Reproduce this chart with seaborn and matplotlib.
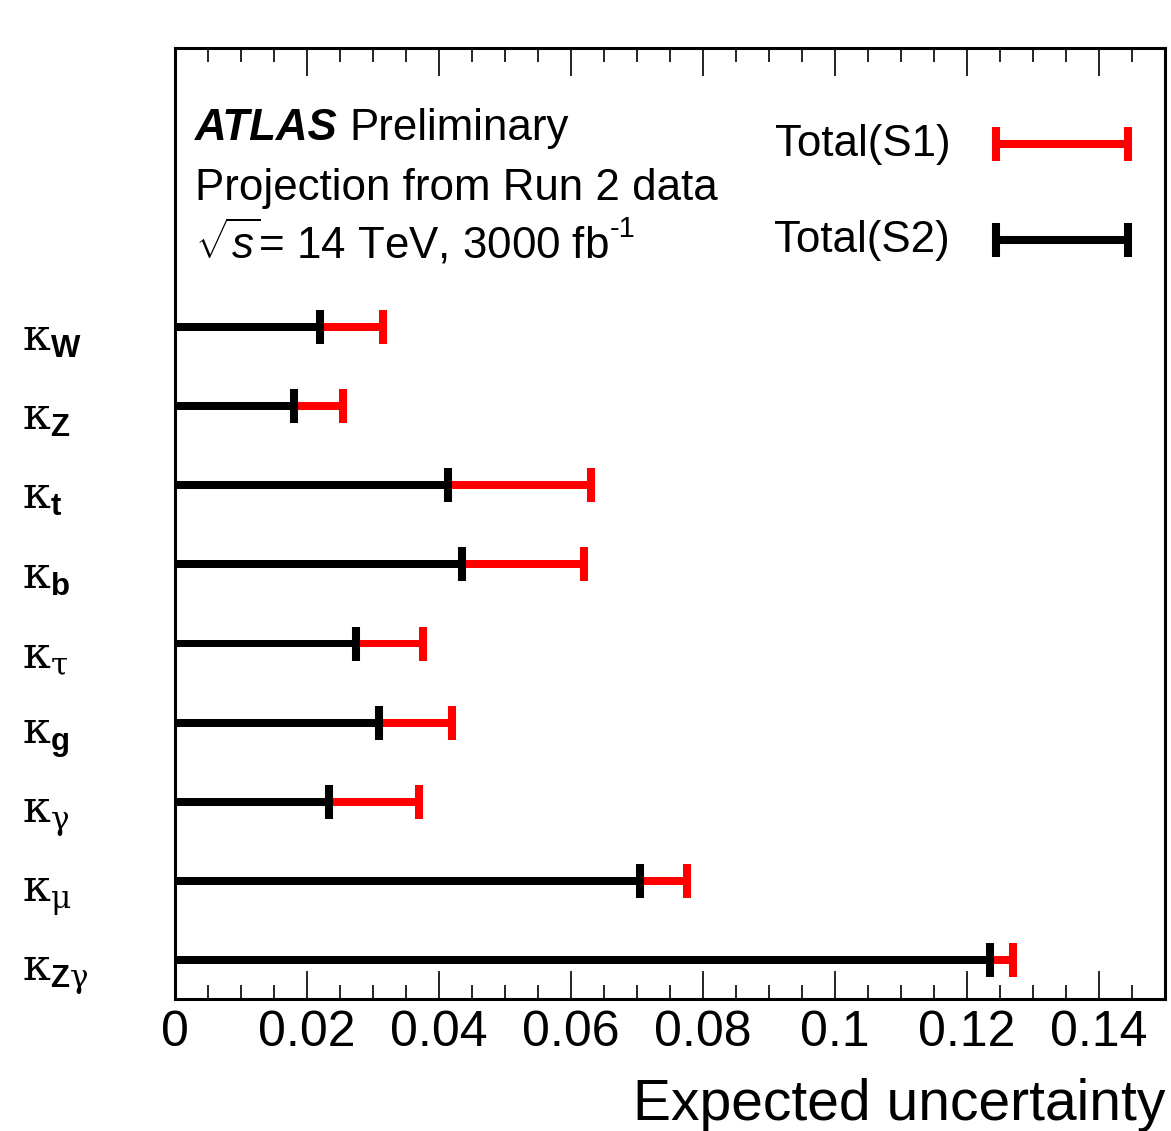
import numpy as np
import pandas as pd
import matplotlib
matplotlib.use("Agg")
import matplotlib.pyplot as plt
import matplotlib.transforms as mtrans
import seaborn as sns
from matplotlib.ticker import MultipleLocator

# ---- data ----
labels = [r"$\mathrm{\kappa}_{\mathbf{W}}$", r"$\mathrm{\kappa}_{\mathbf{Z}}$",
          r"$\mathrm{\kappa}_{\mathbf{t}}$", r"$\mathrm{\kappa}_{\mathbf{b}}$",
          r"$\mathrm{\kappa}_{\mathrm{\tau}}$", r"$\mathrm{\kappa}_{\mathbf{g}}$",
          r"$\mathrm{\kappa}_{\mathrm{\gamma}}$", r"$\mathrm{\kappa}_{\mathrm{\mu}}$",
          r"$\mathrm{\kappa}_{\mathbf{Z}\mathrm{\gamma}}$"]
total_s1 = [0.0315, 0.0255, 0.063, 0.062, 0.0376, 0.042, 0.037, 0.0776, 0.127]
total_s2 = [0.022, 0.018, 0.0414, 0.0435, 0.0274, 0.0309, 0.0233, 0.0705, 0.1235]
xticks = [0, 0.02, 0.04, 0.06, 0.08, 0.1, 0.12, 0.14]
xtick_labels = ["0", "0.02", "0.04", "0.06", "0.08", "0.1", "0.12", "0.14"]

df = pd.DataFrame({"coupling": labels, "S1": total_s1, "S2": total_s2})
df["pos"] = np.arange(len(df))

sns.set_style("white")
plt.rcParams["font.family"] = ["Liberation Sans", "DejaVu Sans"]
plt.rcParams["text.color"] = "black"
plt.rcParams["axes.labelcolor"] = "black"
plt.rcParams["xtick.color"] = "black"
plt.rcParams["ytick.color"] = "black"
plt.rcParams["mathtext.fontset"] = "custom"
plt.rcParams["mathtext.rm"] = "DejaVu Serif"
plt.rcParams["mathtext.it"] = "Liberation Sans:italic"
plt.rcParams["mathtext.bf"] = "Liberation Sans:bold"
plt.rcParams["mathtext.sf"] = "Liberation Sans"

fig = plt.figure(figsize=(11.71, 11.31), dpi=100)
ax = fig.add_axes([175 / 1171, 1 - 999 / 1131, 990 / 1171, 951 / 1131])

bar_w = 0.1
cap_s = 23.8 ** 2
cap_lw = 5.8

sns.barplot(data=df, x="S1", y="coupling", orient="h", color="red",
            width=bar_w, errorbar=None, linewidth=0, saturation=1, ax=ax)
sns.barplot(data=df, x="S2", y="coupling", orient="h", color="black",
            width=bar_w, errorbar=None, linewidth=0, saturation=1, ax=ax)
sns.scatterplot(data=df, x="S1", y="pos", marker="|", s=cap_s, linewidth=cap_lw,
                color="red", ax=ax, zorder=3, legend=False)
sns.scatterplot(data=df, x="S2", y="pos", marker="|", s=cap_s, linewidth=cap_lw,
                color="black", ax=ax, zorder=4, legend=False)

ax.set_xlim(0, 0.15)
ax.set_ylim(len(df) - 1 + 0.493, -3.527)

ax.set_xticks(xticks)
ax.set_xticklabels(xtick_labels)
ax.xaxis.set_minor_locator(MultipleLocator(0.005))
ax.tick_params(axis="x", which="major", direction="in", length=20, width=1.2,
               top=True, bottom=True, labelsize=36, pad=8, colors="black")
ax.tick_params(axis="x", which="minor", direction="in", length=10, width=1.2,
               top=True, bottom=True)
ax.tick_params(axis="y", length=0, labelsize=32, pad=110)
shift = mtrans.ScaledTranslation(0, -0.08, fig.dpi_scale_trans)
for lab in ax.get_yticklabels():
    lab.set_horizontalalignment("left")
    lab.set_transform(lab.get_transform() + shift)

for sp in ax.spines.values():
    sp.set_linewidth(2.2)
    sp.set_color("black")

ax.set_ylabel("")
ax.set_xlabel("Expected uncertainty", fontsize=41, ha="right")
ax.xaxis.set_label_coords(1.0, -0.083)

# ---- header text ----
fs = 31.6
t1 = ax.text(0.0202, 0.903, "ATLAS", transform=ax.transAxes, fontsize=fs,
             fontweight="bold", fontstyle="italic", va="baseline", ha="left")
fig.canvas.draw()
bb = t1.get_window_extent()
x_next = ax.transAxes.inverted().transform((bb.x1 + 12, 0))[0]
ax.text(x_next, 0.903, "Preliminary", transform=ax.transAxes, fontsize=fs,
        va="baseline", ha="left")
ax.text(0.0202, 0.840, "Projection from Run 2 data", transform=ax.transAxes,
        fontsize=fs, va="baseline", ha="left")
t3 = ax.text(0.0202, 0.779, r"$\sqrt{s}$= 14 TeV, 3000 fb",
             transform=ax.transAxes, fontsize=fs, va="baseline", ha="left")
fig.canvas.draw()
bb3 = t3.get_window_extent()
x_sup = ax.transAxes.inverted().transform((bb3.x1 + 1, 0))[0]
ax.text(x_sup, 0.779 + 0.022, "-1", transform=ax.transAxes, fontsize=21,
        va="baseline", ha="left")

# ---- legend ----
for ytxt, col, name in [(0.899, "red", "Total(S1)"), (0.798, "black", "Total(S2)")]:
    ax.plot([0.829, 0.963], [ytxt, ytxt], transform=ax.transAxes, color=col,
            lw=cap_lw, solid_capstyle="butt")
    ax.plot([0.829, 0.963], [ytxt, ytxt], transform=ax.transAxes, color=col,
            lw=0, marker="|", markersize=23.8, markeredgewidth=cap_lw)
    ax.text(0.783, ytxt, name, transform=ax.transAxes, fontsize=fs,
            va="center", ha="right")

fig.savefig("out.png", dpi=100)
